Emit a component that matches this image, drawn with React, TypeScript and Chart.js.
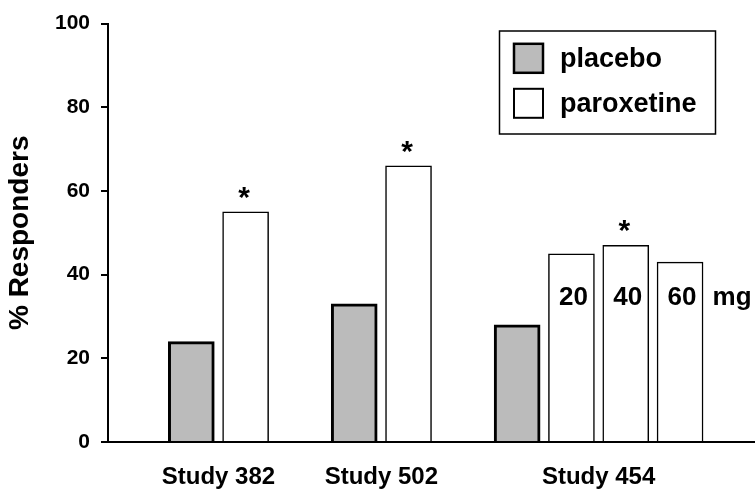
import React, { useEffect, useRef } from 'react';
import { Chart, registerables } from 'chart.js';

Chart.register(...registerables);

const FONT = '"Liberation Sans", Arial, Helvetica, sans-serif';

// ---- data ----
const studies = ['Study 382', 'Study 502', 'Study 454'];
const seriesLabels = ['placebo', 'paroxetine'];
const placeboValues = [24, 33, 28];
const paroxetineValues = [[55], [66], [45, 47, 43]];
const paroxetineDoseLabels = [[''], [''], ['20', '40', '60']];
const paroxetineSignificant = [[true], [true], [false, true, false]];
const doseUnit = 'mg';
const yTickValues = [0, 20, 40, 60, 80, 100];
const yAxisTitle = '% Responders';

// ---- slot layout derived from data (one slot per bar, one empty slot between studies) ----
const placeboPoints: { x: number; y: number }[] = [];
const paroxetinePoints: { x: number; y: number }[] = [];
const paroxetineDoseFlat: string[] = [];
const paroxetineSigFlat: boolean[] = [];
const studyCenters: number[] = [];
{
  let slot = 0;
  studies.forEach((_, i) => {
    const first = slot;
    placeboPoints.push({ x: slot, y: placeboValues[i] });
    slot++;
    paroxetineValues[i].forEach((v, j) => {
      paroxetinePoints.push({ x: slot, y: v });
      paroxetineDoseFlat.push(paroxetineDoseLabels[i][j]);
      paroxetineSigFlat.push(paroxetineSignificant[i][j]);
      slot++;
    });
    studyCenters.push((first + slot - 1) / 2);
    slot++;
  });
}

const annotationPlugin = {
  id: 'annotations',
  afterDatasetsDraw(chart: any) {
    const ctx = chart.ctx;
    const yScale = chart.scales.y;
    const meta = chart.getDatasetMeta(1);
    ctx.save();
    ctx.fillStyle = '#000';
    ctx.textAlign = 'center';
    let lastDoseX: number | null = null;
    const doseY = yScale.getPixelForValue(32.8);
    meta.data.forEach((bar: any, k: number) => {
      if (paroxetineSigFlat[k]) {
        ctx.font = `bold 30px ${FONT}`;
        ctx.textBaseline = 'alphabetic';
        ctx.fillText('*', bar.x - 1.5, bar.y - 5);
      }
      if (paroxetineDoseFlat[k]) {
        ctx.font = `bold 26px ${FONT}`;
        ctx.textBaseline = 'alphabetic';
        ctx.fillText(paroxetineDoseFlat[k], bar.x + 2, doseY);
        lastDoseX = bar.x + 2;
      }
    });
    if (lastDoseX !== null) {
      ctx.font = `bold 26px ${FONT}`;
      ctx.fillText(doseUnit, lastDoseX + 50, doseY);
    }
    ctx.restore();
  },
};

const boxLegendPlugin = {
  id: 'boxLegend',
  afterDraw(chart: any) {
    const ctx = chart.ctx;
    const box = { x: 499.5, y: 31, w: 216, h: 103 };
    ctx.save();
    ctx.fillStyle = '#fff';
    ctx.fillRect(box.x, box.y, box.w, box.h);
    ctx.strokeStyle = '#000';
    ctx.lineWidth = 1.5;
    ctx.strokeRect(box.x, box.y, box.w, box.h);
    const swatchBorder = [2.5, 2];
    chart.data.datasets.forEach((ds: any, i: number) => {
      const cy = 58.3 + i * 45;
      const sx = 514, size = 29;
      ctx.fillStyle = ds.backgroundColor;
      ctx.fillRect(sx, cy - size / 2, size, size);
      ctx.lineWidth = swatchBorder[i];
      ctx.strokeStyle = '#000';
      ctx.strokeRect(sx, cy - size / 2, size, size);
      ctx.fillStyle = '#000';
      ctx.font = `bold 27px ${FONT}`;
      ctx.textAlign = 'left';
      ctx.textBaseline = 'alphabetic';
      ctx.fillText(ds.label, 560, cy + 8.5);
    });
    ctx.restore();
  },
};

export default function App() {
  const canvasRef = useRef<HTMLCanvasElement | null>(null);

  useEffect(() => {
    document.body.style.margin = '0';
    const canvas = canvasRef.current;
    if (!canvas) return;
    const chart = new Chart(canvas, {
      type: 'bar',
      data: {
        datasets: [
          {
            label: seriesLabels[0],
            data: placeboPoints as any,
            backgroundColor: '#bbbbbb',
            borderColor: '#000',
            borderWidth: 3,
            barThickness: 46,
            grouped: false,
          },
          {
            label: seriesLabels[1],
            data: paroxetinePoints as any,
            backgroundColor: '#ffffff',
            borderColor: '#000',
            borderWidth: 1.5,
            barThickness: 46,
            grouped: false,
          },
        ],
      },
      options: {
        responsive: false,
        animation: false,
        events: [],
        layout: { padding: { top: 23.3, left: 0, right: 0, bottom: 0 } },
        plugins: {
          legend: { display: false },
          tooltip: { enabled: false },
          title: { display: false },
        },
        scales: {
          x: {
            type: 'linear',
            offset: false,
            min: -1.534,
            max: 10.38,
            afterBuildTicks: (scale: any) => {
              scale.ticks = studyCenters.map((v) => ({ value: v }));
            },
            afterFit: (scale: any) => {
              scale.height = 48;
            },
            ticks: {
              callback: (_v: any, i: number) => studies[i],
              color: '#000',
              font: { family: FONT, size: 24, weight: 'bold' },
              padding: 21,
              maxRotation: 0,
              autoSkip: false,
            },
            grid: { display: false, drawTicks: false, offset: false },
            border: { display: true, color: '#000', width: 2 },
          },
          y: {
            min: 0,
            max: 100,
            afterBuildTicks: (scale: any) => {
              scale.ticks = yTickValues.map((v) => ({ value: v }));
            },
            afterFit: (scale: any) => {
              scale.width = 108;
            },
            ticks: {
              color: '#000',
              font: { family: FONT, size: 21, weight: 'bold' },
              padding: 11,
            },
            grid: {
              drawOnChartArea: false,
              drawTicks: true,
              tickLength: 7,
              color: '#000',
              lineWidth: 2,
            },
            border: { display: true, color: '#000', width: 2 },
            title: {
              display: true,
              text: yAxisTitle,
              color: '#000',
              font: { family: FONT, size: 28, weight: 'bold' },
              padding: { top: 3, bottom: 0 },
            },
          },
        },
      } as any,
      plugins: [annotationPlugin, boxLegendPlugin],
    });
    return () => chart.destroy();
  }, []);

  return (
    <div style={{ width: 755, height: 490 }}>
      <canvas ref={canvasRef} width={755} height={490} style={{ display: 'block' }} />
    </div>
  );
}
